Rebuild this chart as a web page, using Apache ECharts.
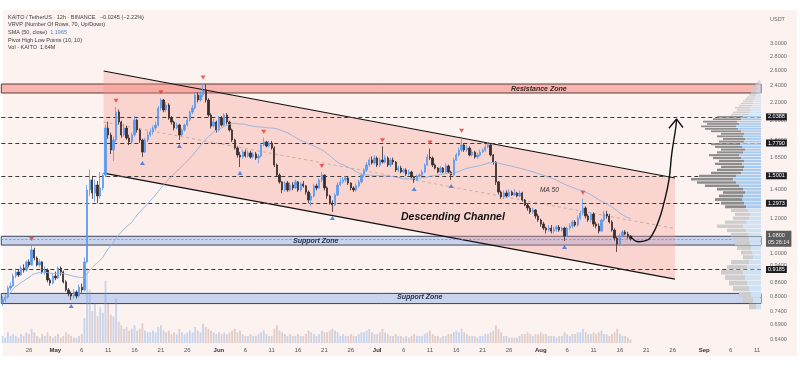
<!DOCTYPE html>
<html><head><meta charset="utf-8">
<script src="https://cdn.jsdelivr.net/npm/echarts@6/dist/echarts.min.js"></script>
<style>html,body{margin:0;padding:0;background:#fff}#c{width:800px;height:381px}</style>
</head><body><div id="c"></div>
<script>
// ---------- DATA ----------
const startTime = Date.UTC(2025, 3, 21, 0);    // first 12h slot on the axis
const slotCount = 288;                          // 12h slots shown on the time axis
const firstCandleSlot = 0;
const firstOpen = 0.775;
const closes = [
0.785,0.797,0.835,0.844,0.889,0.908,0.894,0.927,0.917,0.957,0.942,1.019,0.977,0.942,0.957,0.908,0.917,0.871,0.857,0.889,
0.880,0.927,0.908,0.862,0.827,0.810,0.801,0.818,0.801,0.839,0.827,0.957,1.393,1.468,1.371,1.430,1.350,1.408,1.506,1.925,
1.856,1.716,1.808,2.093,1.986,1.856,1.925,1.827,1.790,1.856,2.007,1.905,1.808,1.698,1.808,1.856,1.885,1.925,1.955,2.138,
2.228,2.115,2.171,2.028,1.986,1.925,1.955,1.856,1.905,1.955,2.007,2.093,2.138,2.287,2.228,2.287,2.347,2.228,2.060,1.945,
1.986,1.905,2.028,1.955,2.060,1.986,1.905,1.808,1.734,1.672,1.655,1.698,1.663,1.690,1.655,1.681,1.646,1.663,1.762,1.790,
1.753,1.780,1.734,1.587,1.506,1.453,1.393,1.445,1.393,1.430,1.408,1.453,1.393,1.438,1.423,1.378,1.322,1.350,1.423,1.408,
1.468,1.506,1.408,1.350,1.302,1.288,1.357,1.430,1.453,1.468,1.483,1.445,1.408,1.393,1.423,1.453,1.506,1.546,1.587,1.629,
1.604,1.646,1.587,1.629,1.612,1.646,1.587,1.629,1.612,1.546,1.562,1.530,1.546,1.514,1.530,1.491,1.468,1.498,1.506,1.530,
1.587,1.655,1.646,1.587,1.562,1.530,1.562,1.530,1.579,1.530,1.506,1.629,1.672,1.716,1.762,1.716,1.734,1.672,1.698,1.655,
1.672,1.698,1.716,1.743,1.762,1.672,1.612,1.453,1.378,1.343,1.371,1.350,1.378,1.357,1.371,1.350,1.371,1.322,1.288,1.268,
1.242,1.255,1.216,1.191,1.166,1.142,1.130,1.142,1.124,1.136,1.148,1.130,1.142,1.095,1.142,1.154,1.179,1.160,1.204,1.235,
1.268,1.216,1.191,1.229,1.166,1.154,1.124,1.191,1.229,1.216,1.179,1.130,1.084,1.051,1.095,1.119,1.107,1.095,1.080];
const highs = [
0.80,0.81,0.845,0.86,0.90,0.925,0.92,0.94,0.945,0.965,0.97,1.045,1.03,0.985,0.97,0.96,0.935,0.925,0.88,0.90,
0.91,0.935,0.935,0.915,0.87,0.835,0.82,0.83,0.825,0.85,0.855,0.98,1.43,1.55,1.50,1.47,1.46,1.53,1.52,1.96,
1.99,1.88,1.84,2.15,2.12,2.00,1.97,1.95,1.86,1.88,2.05,2.02,1.92,1.82,1.83,1.89,1.92,1.95,1.99,2.16,
2.25,2.24,2.20,2.19,2.05,2.00,1.98,1.97,1.92,1.97,2.03,2.11,2.17,2.31,2.32,2.33,2.43,2.42,2.25,2.08,
2.02,2.00,2.05,2.05,2.08,2.08,2.00,1.92,1.82,1.75,1.70,1.72,1.72,1.71,1.71,1.70,1.70,1.68,1.78,1.83,
1.80,1.80,1.80,1.75,1.60,1.52,1.46,1.46,1.46,1.45,1.45,1.47,1.46,1.45,1.46,1.43,1.39,1.37,1.44,1.44,
1.48,1.53,1.51,1.42,1.36,1.32,1.37,1.45,1.48,1.49,1.50,1.49,1.45,1.42,1.44,1.47,1.52,1.56,1.61,1.65,
1.66,1.67,1.66,1.65,1.75,1.67,1.66,1.65,1.65,1.62,1.58,1.58,1.56,1.56,1.55,1.54,1.50,1.51,1.52,1.55,
1.60,1.68,1.73,1.66,1.60,1.57,1.58,1.57,1.60,1.59,1.54,1.65,1.69,1.74,1.84,1.78,1.76,1.75,1.72,1.71,
1.69,1.72,1.73,1.77,1.79,1.77,1.68,1.62,1.46,1.39,1.39,1.39,1.40,1.39,1.40,1.38,1.39,1.38,1.33,1.30,
1.28,1.27,1.26,1.23,1.20,1.18,1.15,1.16,1.16,1.15,1.16,1.16,1.15,1.15,1.15,1.17,1.19,1.19,1.22,1.25,
1.33,1.28,1.23,1.24,1.24,1.18,1.17,1.20,1.25,1.25,1.23,1.19,1.14,1.09,1.11,1.13,1.13,1.12,1.10];
const lows = [
0.76,0.775,0.79,0.825,0.84,0.88,0.885,0.89,0.905,0.91,0.93,0.94,0.965,0.935,0.93,0.90,0.895,0.86,0.845,0.85,
0.87,0.875,0.89,0.855,0.82,0.80,0.785,0.79,0.79,0.795,0.815,0.82,0.95,1.35,1.33,1.31,1.30,1.33,1.39,1.49,
1.82,1.68,1.62,1.79,1.96,1.83,1.84,1.81,1.76,1.77,1.84,1.88,1.78,1.655,1.69,1.79,1.84,1.86,1.90,1.94,
2.11,2.09,2.09,2.01,1.96,1.90,1.91,1.808,1.84,1.89,1.94,1.99,2.07,2.12,2.20,2.21,2.26,2.20,2.04,1.92,
1.93,1.88,1.89,1.94,1.94,1.96,1.89,1.79,1.72,1.65,1.57,1.64,1.65,1.65,1.64,1.64,1.63,1.60,1.65,1.75,
1.74,1.74,1.72,1.57,1.49,1.44,1.37,1.38,1.38,1.38,1.39,1.40,1.38,1.38,1.41,1.36,1.30,1.28,1.34,1.39,
1.40,1.45,1.39,1.33,1.29,1.242,1.28,1.35,1.42,1.44,1.45,1.43,1.39,1.38,1.38,1.41,1.44,1.49,1.53,1.57,
1.59,1.59,1.57,1.57,1.60,1.60,1.57,1.57,1.59,1.53,1.53,1.52,1.52,1.50,1.50,1.48,1.445,1.46,1.49,1.50,
1.52,1.58,1.63,1.57,1.55,1.52,1.52,1.52,1.52,1.52,1.468,1.50,1.62,1.66,1.70,1.70,1.70,1.66,1.66,1.64,
1.64,1.66,1.69,1.70,1.73,1.66,1.59,1.43,1.36,1.33,1.33,1.34,1.34,1.35,1.35,1.34,1.34,1.31,1.28,1.25,
1.23,1.23,1.20,1.18,1.15,1.13,1.11,1.12,1.11,1.11,1.12,1.12,1.12,1.067,1.09,1.13,1.14,1.15,1.15,1.19,
1.22,1.20,1.18,1.18,1.15,1.14,1.11,1.12,1.18,1.20,1.17,1.12,1.07,1.008,1.04,1.09,1.10,1.08,1.07];
const volumes = [
4,3,6,4,5,4,3,5,4,6,5,8,6,4,3,5,4,6,4,3,4,5,3,4,6,5,4,3,3,4,5,
14,42,30,18,22,15,20,17,35,22,16,15,25,12,
10,8,9,7,8,10,7,8,11,7,6,6,7,6,9,
10,7,6,7,5,6,5,8,6,5,6,7,6,9,7,6,11,9,8,7,
6,5,6,5,6,5,6,7,8,6,7,5,4,4,5,4,4,5,6,7,
5,4,4,8,10,7,6,5,4,5,4,4,5,4,4,5,7,6,5,4,5,7,6,6,7,8,7,6,4,5,
4,4,5,4,4,5,6,6,7,8,6,5,5,6,8,6,5,4,4,5,4,4,3,4,3,4,5,4,4,4,
5,6,7,5,4,4,3,4,4,5,5,6,7,6,8,6,5,4,4,4,3,4,4,5,5,6,7,10,8,6,
4,4,3,3,3,3,4,5,5,6,5,4,5,5,6,5,5,4,4,4,3,4,4,6,5,4,5,5,6,6,
8,6,5,5,6,5,6,7,5,5,4,5,6,8,5,4,4,3,2];
const pivotHighCandles = [12,44,61,77,100,122,145,163,175,221];
const pivotLowCandles = [27,54,68,91,126,157,171,214];
const levelLines = [2.0388, 1.7790, 1.5001, 1.2973, 0.9185];
const lastPrice = 1.0800;
const lastPriceTimer = '05:26:14';
const resistanceZone = [2.311, 2.422];
const supportZoneUpper = [1.045, 1.094];
const supportZoneLower = [0.770, 0.812];
const channelUpper = [[38.3, 2.592], [254.9, 1.483]];
const channelLower = [[38.3, 1.521], [254.9, 0.875]];
const arrowPath = [[238.1,1.094],[241.2,1.063],[243.8,1.069],[246.2,1.101],[248.8,1.191],[250.7,1.302],[252.6,1.468],[253.7,1.689],[255.2,1.93],[255.5,2.017]];
const arrowHead = [[252.6,1.923],[255.5,2.017],[257.9,1.93]];
const priceTicks = [3.0,2.8,2.6,2.4,2.2,2.0,1.8,1.65,1.5,1.4,1.3,1.2,1.0,0.94,0.86,0.8,0.74,0.69,0.64];
const priceMin = 0.6268, priceMax = 3.564;
const vrvpLow = 0.745, vrvpStep = 0.0246;
const vrvpUp = [5,8,10,12,14,16,18,14,12,8, 9,10,11,12,13,15,18,15,12,11, 13,15,17,19,18,16,18,22,25,28, 25,20,18,17,19,17,20,22,18,16, 19,21,17,16,18,17,20,23,25,22, 24,20,18,12,12,10,11,9,8,8, 7,6,5,4,5,3,4,3,2,1];
const vrvpDown = [7,10,12,16,18,20,22,20,18,10, 11,14,15,16,17,19,26,21,16,15, 17,21,23,27,24,22,26,34,39,42, 37,30,26,23,27,25,28,30,26,24, 27,29,25,22,26,23,30,33,35,32, 34,28,26,18,16,14,15,13,12,10, 9,8,7,6,7,5,6,3,3,2];
const valueAreaRows = [21, 52];

// ---------- BUILD ----------
const months = ['Jan','Feb','Mar','Apr','May','Jun','Jul','Aug','Sep','Oct','Nov','Dec'];
const cats = [];
for (let i = 0; i < slotCount; i++) cats.push(new Date(startTime + i * 43200000).toISOString().slice(0, 13));
const labelDays = [1,6,11,16,21,26];
function isLabel(i, v){ const d=+v.slice(8,10), h=+v.slice(11,13); return i >= 4 && h===0 && labelDays.indexOf(d)>=0; }

const candleData = [], volData = [], smaData = [];
closes.forEach((c, i) => {
  const o = i === 0 ? firstOpen : closes[i-1];
  const x = i + firstCandleSlot;
  candleData.push([x, o, c, lows[i], highs[i]]);
  volData.push({value: [x, volumes[i]], itemStyle: {color: c >= o ? 'rgba(110,160,225,0.38)' : 'rgba(170,120,115,0.32)'}});
  const s = Math.max(0, i - 49); let sum = 0;
  for (let k = s; k <= i; k++) sum += closes[k];
  smaData.push([x, sum / (i - s + 1)]);
});
const pivHi = pivotHighCandles.map(n => [n - 1 + firstCandleSlot, highs[n-1]]);
const pivLo = pivotLowCandles.map(n => [n - 1 + firstCandleSlot, lows[n-1]]);
const vrvpData = vrvpUp.map((u, k) => [k, u, vrvpDown[k], vrvpLow + (k + 0.5) * vrvpStep]);

const FONT = 'Liberation Sans, Arial, sans-serif';
const chart = echarts.init(document.getElementById('c'), null, {renderer: 'canvas'});

const levelMarks = levelLines.map(v => ({
  yAxis: v,
  lineStyle: {type: [4,3], color: '#3a3a3a', width: 1},
  label: {show: true, position: 'end', distance: 5, formatter: v.toFixed(4), color: '#fff', backgroundColor: '#1e1e22', padding: [1,2,0,2], fontSize: 5.5, fontFamily: FONT}
}));
levelMarks.push({
  yAxis: lastPrice,
  lineStyle: {type: [2,2], color: '#8a8a8a', width: 0.8},
  label: {show: true, position: 'end', distance: 5, formatter: lastPrice.toFixed(4) + '\n' + lastPriceTimer, color: '#f0f0f0', backgroundColor: '#5c5c5c', padding: [2,2,1,2], lineHeight: 6.5, fontSize: 5.5, fontFamily: FONT}
});

const option = {
  backgroundColor: '#ffffff',
  animation: false,
  graphic: [
    {type: 'rect', z: -5, shape: {x: 3, y: 10, width: 794, height: 346}, style: {fill: '#fcf3f1'}},
    {type: 'text', z: 100, x: 8, y: 17.5, style: {text: 'KAITO / TetherUS · 12h · BINANCE   −0.0245 (−2.22%)', font: '5.5px ' + FONT, fill: '#3b3b3b', verticalAlign: 'middle'}},
    {type: 'text', z: 100, x: 8, y: 24.8, style: {text: 'VRVP (Number Of Rows, 70, Up/Down)', font: '5.5px ' + FONT, fill: '#3b3b3b', verticalAlign: 'middle'}},
    {type: 'text', z: 100, x: 8, y: 32.6, style: {text: '{a|SMA (50, close)}  {b|1.1965}', font: '5.5px ' + FONT, verticalAlign: 'middle', rich: {a: {fill: '#3b3b3b', font: '5.5px ' + FONT}, b: {fill: '#3f86e0', font: '5.5px ' + FONT}}}},
    {type: 'text', z: 100, x: 8, y: 40, style: {text: 'Pivot High Low Points (10, 10)', font: '5.5px ' + FONT, fill: '#3b3b3b', verticalAlign: 'middle'}},
    {type: 'text', z: 100, x: 8, y: 47.4, style: {text: 'Vol · KAITO  1.64M', font: '5.5px ' + FONT, fill: '#3b3b3b', verticalAlign: 'middle'}},
    {type: 'text', z: 100, x: 770, y: 19, style: {text: 'USDT', font: '5.5px ' + FONT, fill: '#666', verticalAlign: 'middle'}},
    {type: 'text', z: 100, x: 511, y: 88.6, style: {text: 'Resistance Zone', font: 'italic bold 7px ' + FONT, fill: '#3a2626', verticalAlign: 'middle'}},
    {type: 'text', z: 100, x: 293, y: 240.6, style: {text: 'Support Zone', font: 'italic bold 7px ' + FONT, fill: '#26304a', verticalAlign: 'middle'}},
    {type: 'text', z: 100, x: 397, y: 297.4, style: {text: 'Support Zone', font: 'italic bold 7px ' + FONT, fill: '#26304a', verticalAlign: 'middle'}},
    {type: 'text', z: 100, x: 401, y: 217, style: {text: 'Descending Channel', font: 'italic bold 10.5px ' + FONT, fill: '#111', verticalAlign: 'middle'}},
    {type: 'text', z: 100, x: 540, y: 190, style: {text: 'MA 50', font: 'italic 6.5px ' + FONT, fill: '#333', verticalAlign: 'middle'}}
  ],
  grid: [
    {left: 1.3, right: 39, top: 10, bottom: 38},
    {left: 1.3, right: 39, top: 263, bottom: 38},
    {left: 676, right: 39, top: 10, bottom: 38}
  ],
  xAxis: [
    {type: 'category', gridIndex: 0, data: cats, boundaryGap: true,
     axisLine: {show: false}, axisTick: {show: false}, splitLine: {show: false},
     axisLabel: {interval: (i, v) => isLabel(i, v), margin: 4, fontSize: 6, fontFamily: FONT, color: '#555', hideOverlap: false,
       formatter: v => { const d=+v.slice(8,10); return d===1 ? '{m|' + months[+v.slice(5,7)-1] + '}' : String(d); },
       rich: {m: {fontSize: 6, fontWeight: 'bold', color: '#333', fontFamily: FONT}}}},
    {type: 'value', gridIndex: 0, min: -0.5, max: slotCount - 0.5, show: false},
    {type: 'category', gridIndex: 1, data: cats, boundaryGap: true, show: false},
    {type: 'value', gridIndex: 2, min: 0, max: 85, inverse: true, show: false}
  ],
  yAxis: [
    {type: 'log', gridIndex: 0, position: 'right', min: priceMin, max: priceMax, logBase: 10,
     axisLine: {show: false}, axisTick: {show: false}, splitLine: {show: false},
     axisLabel: {customValues: priceTicks, formatter: v => Number(v).toFixed(4), margin: 9, fontSize: 5.5, fontFamily: FONT, color: '#6a6a6a'}},
    {type: 'value', gridIndex: 1, min: 0, max: 45, show: false},
    {type: 'log', gridIndex: 2, min: priceMin, max: priceMax, logBase: 10, show: false}
  ],
  series: [
    {type: 'line', name: 'zones', xAxisIndex: 1, yAxisIndex: 0, data: [[-10, 1]], symbol: 'none', lineStyle: {opacity: 0}, z: 1,
     markArea: {silent: true, data: [
       [{yAxis: resistanceZone[0], itemStyle: {color: '#f6b5ae', borderColor: '#5a3a3a', borderWidth: 1}}, {yAxis: resistanceZone[1]}],
       [{yAxis: supportZoneUpper[0], itemStyle: {color: 'rgba(140,172,232,0.45)', borderColor: '#3b4658', borderWidth: 1}}, {yAxis: supportZoneUpper[1]}],
       [{yAxis: supportZoneLower[0], itemStyle: {color: 'rgba(140,172,232,0.45)', borderColor: '#3b4658', borderWidth: 1}}, {yAxis: supportZoneLower[1]}]
     ]}},
    {type: 'custom', name: 'channel', xAxisIndex: 1, yAxisIndex: 0, z: 2, silent: true, data: [[0, 1]],
     renderItem: (params, api) => {
       const u0 = api.coord(channelUpper[0]), u1 = api.coord(channelUpper[1]);
       const l0 = api.coord(channelLower[0]), l1 = api.coord(channelLower[1]);
       const m0 = [(u0[0]+l0[0])/2, (u0[1]+l0[1])/2], m1 = [(u1[0]+l1[0])/2, (u1[1]+l1[1])/2];
       return {type: 'group', children: [
         {type: 'polygon', shape: {points: [u0, u1, l1, l0]}, style: {fill: 'rgba(245,150,140,0.33)'}},
         {type: 'line', shape: {x1: m0[0], y1: m0[1], x2: m1[0], y2: m1[1]}, style: {stroke: '#b9a3a0', lineWidth: 0.8, lineDash: [3,3]}},
         {type: 'line', shape: {x1: u0[0], y1: u0[1], x2: u1[0], y2: u1[1]}, style: {stroke: '#111', lineWidth: 1.2}},
         {type: 'line', shape: {x1: l0[0], y1: l0[1], x2: l1[0], y2: l1[1]}, style: {stroke: '#111', lineWidth: 1.2}}
       ]};
     }},
    {type: 'bar', name: 'Vol', xAxisIndex: 2, yAxisIndex: 1, data: volData, barWidth: 1.8, z: 3},
    {type: 'custom', name: 'VRVP', xAxisIndex: 3, yAxisIndex: 2, z: 5, silent: true, data: vrvpData,
     encode: {x: 1, y: 3},
     renderItem: (params, api) => {
       const k = api.value(0), up = api.value(1), dn = api.value(2);
       const pLo = vrvpLow + k * vrvpStep, pHi = pLo + vrvpStep;
       const yTop = api.coord([0, pHi])[1], yBot = api.coord([0, pLo])[1];
       const x0 = api.coord([0, pLo])[0];
       const xU = api.coord([up, pLo])[0], xD = api.coord([up + dn, pLo])[0];
       const h = Math.max(0.6, yBot - yTop - 0.7);
       const va = k >= valueAreaRows[0] && k <= valueAreaRows[1];
       return {type: 'group', children: [
         {type: 'rect', shape: {x: xU, y: yTop, width: x0 - xU, height: h}, style: {fill: va ? '#a8cbf0' : '#cfe1f5'}},
         {type: 'rect', shape: {x: xD, y: yTop, width: xU - xD, height: h}, style: {fill: va ? '#8c8c8c' : '#cdcdcd'}}
       ]};
     }},
    {type: 'candlestick', name: 'KAITO', xAxisIndex: 0, yAxisIndex: 0, data: candleData, encode: {x: 0, y: [1,2,3,4]}, barWidth: 1.8, z: 6,
     itemStyle: {color: '#5a9bef', color0: '#3a2d2d', borderColor: '#5a9bef', borderColor0: '#3a2d2d', borderWidth: 0.8}},
    {type: 'line', name: 'SMA 50', xAxisIndex: 0, yAxisIndex: 0, data: smaData, symbol: 'none', z: 7,
     lineStyle: {color: '#92b2dc', width: 0.9}},
    {type: 'scatter', name: 'PivotHigh', xAxisIndex: 0, yAxisIndex: 0, data: pivHi, symbol: 'triangle', symbolRotate: 180, symbolSize: [5,4], symbolOffset: [0,-6], z: 8,
     itemStyle: {color: '#e53935'}},
    {type: 'scatter', name: 'PivotLow', xAxisIndex: 0, yAxisIndex: 0, data: pivLo, symbol: 'triangle', symbolSize: [5,4], symbolOffset: [0,6], z: 8,
     itemStyle: {color: '#2f6fe0'}},
    {type: 'line', name: 'levels', xAxisIndex: 1, yAxisIndex: 0, data: [[-10, 1]], symbol: 'none', lineStyle: {opacity: 0}, z: 10,
     markLine: {silent: true, symbol: ['none','none'], data: levelMarks}},
    {type: 'line', name: 'projection', xAxisIndex: 1, yAxisIndex: 0, data: arrowPath, smooth: 0.5, symbol: 'none', z: 11,
     lineStyle: {color: '#111', width: 1.4}},
    {type: 'line', name: 'arrowhead', xAxisIndex: 1, yAxisIndex: 0, data: arrowHead, symbol: 'none', z: 11,
     lineStyle: {color: '#111', width: 1.4}}
  ]
};
chart.setOption(option);
</script></body></html>
